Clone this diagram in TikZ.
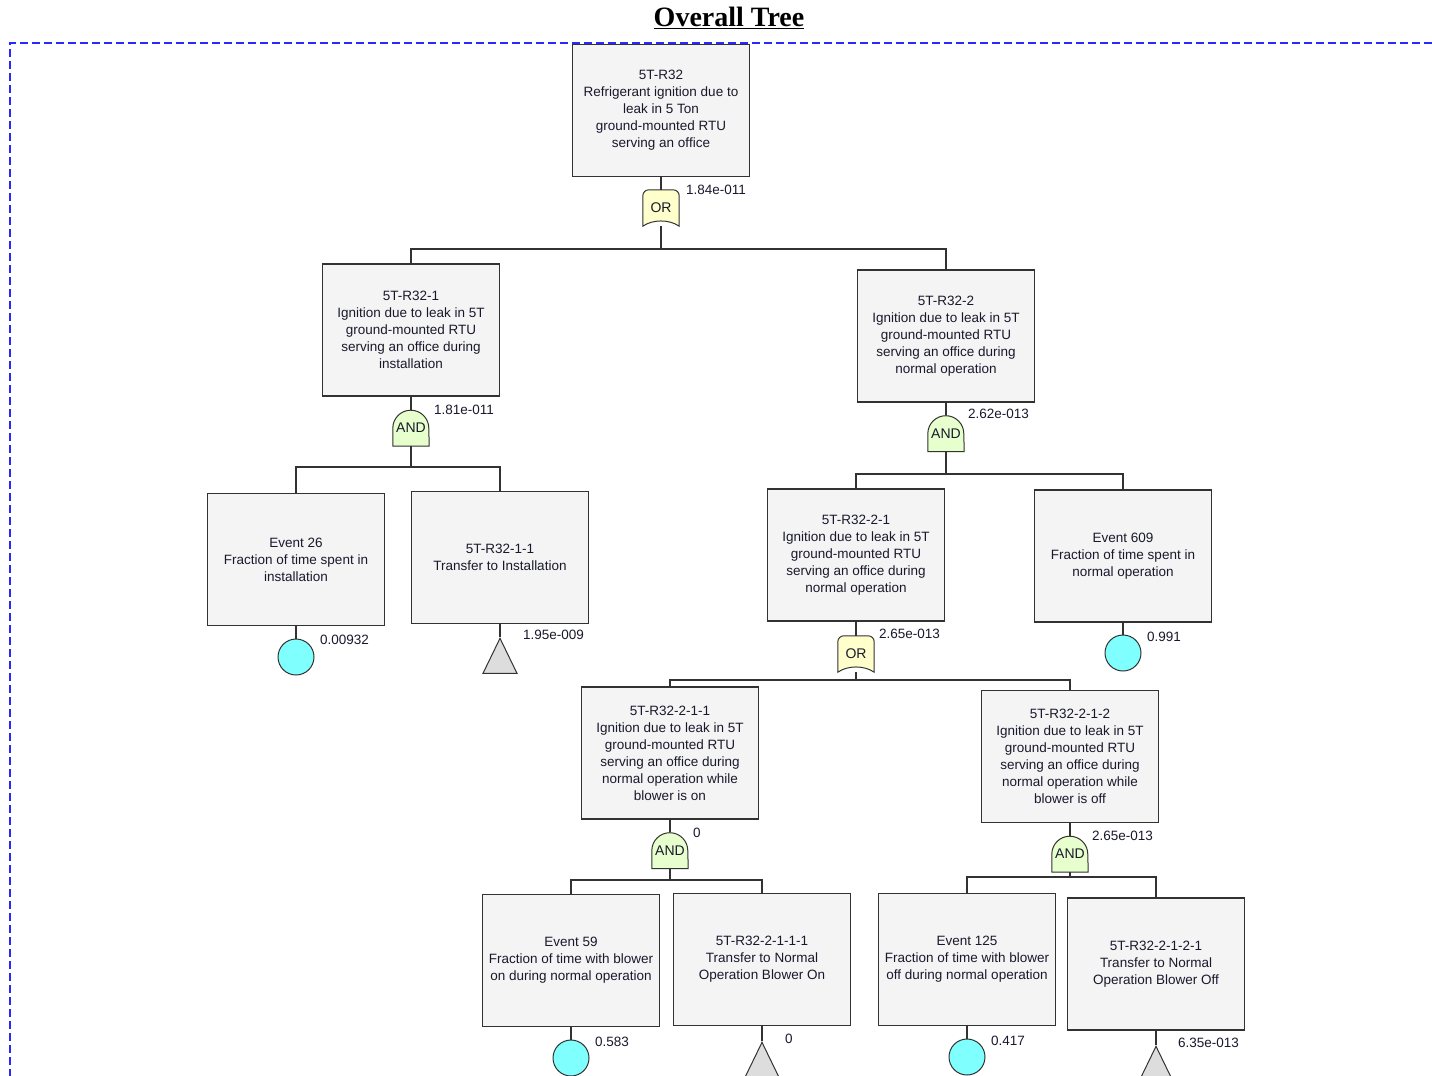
\documentclass[tikz,border=0pt]{standalone}
\usepackage{fontspec}
\setmainfont{Liberation Sans}
\newfontfamily\titlefont{Liberation Serif}
\usetikzlibrary{shapes.geometric,backgrounds}
\definecolor{linegray}{RGB}{50,50,50}
\definecolor{boxfill}{RGB}{244,244,244}
\definecolor{orfill}{RGB}{255,255,204}
\definecolor{andfill}{RGB}{230,255,204}
\definecolor{basiccyan}{RGB}{128,255,255}
\definecolor{transfergray}{RGB}{221,221,221}
\definecolor{framebl}{RGB}{40,40,255}
\definecolor{inktext}{RGB}{25,25,45}
\begin{document}
\begin{tikzpicture}[x=1pt,y=-1pt,
  event/.style={rectangle,draw=linegray,line width=1.1pt,fill=boxfill,
    minimum width=177pt,minimum height=132pt,inner sep=2pt,align=center,
    text=inktext,font=\fontsize{13.5}{17}\selectfont},
  gate/.style={rectangle,minimum width=36pt,minimum height=36pt,inner sep=0pt,
    text=inktext,font=\fontsize{14}{16}\selectfont},
  andshape/.style={draw=linegray,line width=1pt,fill=andfill},
  orshape/.style={draw=linegray,line width=1pt,fill=orfill},
  basic/.style={circle,draw=linegray,line width=1pt,fill=basiccyan,
    minimum size=36pt,inner sep=0pt},
  transfer/.style={isosceles triangle,isosceles triangle stretches,
    shape border rotate=90,draw=linegray,line width=1pt,fill=transfergray,
    minimum width=34pt,minimum height=35pt,inner sep=0pt,anchor=apex},
  prob/.style={anchor=west,inner sep=0pt,text=inktext,
    font=\fontsize{13.5}{16}\selectfont},
  link/.style={draw=linegray,line width=1.1pt}]
  \useasboundingbox (0,0) rectangle (1432,1076);
  % title and frame
  \node[font=\titlefont\bfseries\fontsize{28}{30}\selectfont] (title) at (729,18)
    {\underline{Overall Tree}};
  \draw[framebl,line width=1.3pt,dash pattern=on 8pt off 4pt] (1432,43) -- (10,43) -- (10,1076);
  % top event
  \node[event] (t) at (661,110.5) {5T-R32\\Refrigerant ignition due to\\leak in 5 Ton\\ground-mounted RTU\\serving an office};
  \node[gate] (g0) at (661,208) {OR};
  \node[prob] (p0) at (686,190) {1.84e-011};
  \coordinate (j0) at (661,249);
  % level 1
  \node[event] (r1) at (411,330) {5T-R32-1\\Ignition due to leak in 5T\\ground-mounted RTU\\serving an office during\\installation};
  \node[event] (r2) at (946,336) {5T-R32-2\\Ignition due to leak in 5T\\ground-mounted RTU\\serving an office during\\normal operation};
  \node[gate] (g1) at (411,428) {AND};
  \node[prob] (p1) at (434,410) {1.81e-011};
  \coordinate (j1) at (411,467);
  \node[gate] (g2) at (946,433.5) {AND};
  \node[prob] (p2) at (968,414) {2.62e-013};
  \coordinate (j2) at (946,474);
  % level 2
  \node[event] (e26) at (296,559.5) {Event 26\\Fraction of time spent in\\installation};
  \node[event] (r11) at (500,557.5) {5T-R32-1-1\\Transfer to Installation};
  \node[basic] (c26) at (296,657) {};
  \node[prob] (q26) at (320,640) {0.00932};
  \node[transfer] (tr11) at (500,637) {};
  \node[prob] (q11) at (523,635) {1.95e-009};
  \node[event] (r21) at (856,555) {5T-R32-2-1\\Ignition due to leak in 5T\\ground-mounted RTU\\serving an office during\\normal operation};
  \node[event] (e609) at (1123,556) {Event 609\\Fraction of time spent in\\normal operation};
  \node[basic] (c609) at (1123,653) {};
  \node[prob] (q609) at (1147,637) {0.991};
  \node[gate] (g3) at (856,654) {OR};
  \node[prob] (p3) at (879,634) {2.65e-013};
  \coordinate (j3) at (856,680);
  % level 3
  \node[event] (r211) at (670,753) {5T-R32-2-1-1\\Ignition due to leak in 5T\\ground-mounted RTU\\serving an office during\\normal operation while\\blower is on};
  \node[event] (r212) at (1070,756.5) {5T-R32-2-1-2\\Ignition due to leak in 5T\\ground-mounted RTU\\serving an office during\\normal operation while\\blower is off};
  \node[gate] (g4) at (670,850.5) {AND};
  \node[prob] (p4) at (693,833) {0};
  \coordinate (j4) at (670,880);
  \node[gate] (g5) at (1070,854) {AND};
  \node[prob] (p5) at (1092,836) {2.65e-013};
  \coordinate (j5) at (1070,877);
  % level 4
  \node[event] (e59) at (571,960.5) {Event 59\\Fraction of time with blower\\on during normal operation};
  \node[event] (r2111) at (762,959.5) {5T-R32-2-1-1-1\\Transfer to Normal\\Operation Blower On};
  \node[basic] (c59) at (571,1058) {};
  \node[prob] (q59) at (595,1042) {0.583};
  \node[transfer] (tr2111) at (762,1041) {};
  \node[prob] (q2111) at (785,1039) {0};
  \node[event] (e125) at (967,959.5) {Event 125\\Fraction of time with blower\\off during normal operation};
  \node[event] (r2121) at (1156,964) {5T-R32-2-1-2-1\\Transfer to Normal\\Operation Blower Off};
  \node[basic] (c125) at (967,1057) {};
  \node[prob] (q125) at (991,1041) {0.417};
  \node[transfer] (tr2121) at (1156,1045) {};
  \node[prob] (q2121) at (1178,1043) {6.35e-013};
  % connectors
  \draw[link] (t.south) -- (g0.north);
  \draw[link] (g0.south) -- (j0);
  \draw[link] (r1.north) |- (j0) -| (r2.north);
  \draw[link] (r1.south) -- (g1.north);
  \draw[link] (g1.south) -- (j1);
  \draw[link] (e26.north) |- (j1) -| (r11.north);
  \draw[link] (e26.south) -- (c26.north);
  \draw[link] (r11.south) -- (tr11.apex);
  \draw[link] (r2.south) -- (g2.north);
  \draw[link] (g2.south) -- (j2);
  \draw[link] (r21.north) |- (j2) -| (e609.north);
  \draw[link] (e609.south) -- (c609.north);
  \draw[link] (r21.south) -- (g3.north);
  \draw[link] (g3.south) -- (j3);
  \draw[link] (r211.north) |- (j3) -| (r212.north);
  \draw[link] (r211.south) -- (g4.north);
  \draw[link] (g4.south) -- (j4);
  \draw[link] (e59.north) |- (j4) -| (r2111.north);
  \draw[link] (e59.south) -- (c59.north);
  \draw[link] (r2111.south) -- (tr2111.apex);
  \draw[link] (r212.south) -- (g5.north);
  \draw[link] (g5.south) -- (j5);
  \draw[link] (e125.north) |- (j5) -| (r2121.north);
  \draw[link] (e125.south) -- (c125.north);
  \draw[link] (r2121.south) -- (tr2121.apex);
  % gate bodies behind their labels
  \begin{pgfonlayer}{background}
    \foreach \g in {g1,g2,g4,g5}
      \draw[andshape] (\g.south west) -- ([yshift=18pt]\g.south west)
        arc[start angle=180,end angle=0,radius=18pt] -- (\g.south east) -- cycle;
    \foreach \g in {g0,g3}
      \draw[orshape] (\g.south west) -- ([yshift=-6pt]\g.north west)
        arc[start angle=180,end angle=90,radius=6pt] -- ([xshift=-6pt]\g.north east)
        arc[start angle=90,end angle=0,radius=6pt] -- (\g.south east)
        .. controls ([shift={(-10pt,7pt)}]\g.south east) and ([shift={(10pt,7pt)}]\g.south west) .. (\g.south west) -- cycle;
  \end{pgfonlayer}
\end{tikzpicture}
\end{document}
